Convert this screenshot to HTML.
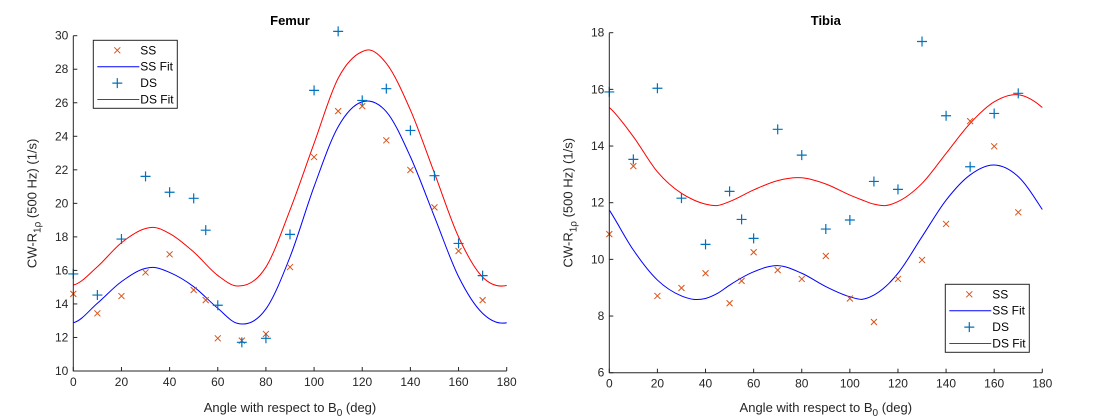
<!DOCTYPE html>
<html><head><meta charset="utf-8">
<style>
html,body{margin:0;padding:0;background:#fff;}
svg{display:block;font-family:"Liberation Sans",Arial,sans-serif;}
</style></head>
<body>
<svg id="chart" width="1110" height="420" viewBox="0 0 1110 420" xmlns="http://www.w3.org/2000/svg"></svg>
<script>
// ---- Femur data ----
const angles = [0,10,20,30,40,50,55,60,70,80,90,100,110,120,130,140,150,160,170];
const femurSS = [14.6,13.44,14.47,15.88,16.96,14.83,14.23,11.95,11.81,12.21,16.2,22.76,25.5,25.8,23.76,21.99,19.76,17.16,14.23];
const femurDS = [15.79,14.53,17.87,21.61,20.66,20.3,18.4,13.92,11.71,11.95,18.15,26.74,30.26,26.14,26.84,24.35,21.65,17.61,15.69];
const femurFitAngles = [0,10,20,30,33,40,50,60,68,80,90,100,110,120,123,130,140,150,160,170,180];
const femurSSFit = [12.88,14.04,15.33,16.12,16.18,15.88,15.03,13.74,12.85,13.7,16.8,21.0,24.57,26.06,26.1,25.47,22.78,19.2,15.63,13.44,12.88];
const femurDSFit = [15.13,16.22,17.65,18.5,18.57,18.2,17.1,15.7,15.07,16.2,19.6,23.58,27.46,29.05,29.15,28.35,25.57,21.8,18.0,15.6,15.1];
// ---- Tibia data ----
const tibiaSS = [10.89,13.29,8.71,8.99,9.51,8.45,9.24,10.25,9.62,9.31,10.12,8.62,7.79,9.31,9.98,11.25,14.88,13.99,11.66];
const tibiaDS = [15.91,13.53,16.04,12.16,10.53,12.4,11.41,10.74,14.59,13.68,11.07,11.39,12.75,12.47,17.69,15.07,13.27,15.15,15.86];
const tibiaFitAngles = [0,10,20,30,35,40,45,50,60,70,80,90,100,105,110,115,120,130,140,150,160,170,180];
const tibiaSSFit = [11.74,10.33,9.27,8.71,8.59,8.62,8.8,9.09,9.56,9.78,9.51,9.04,8.68,8.59,8.74,9.05,9.51,10.8,12.09,12.98,13.33,12.92,11.76];
const tibiaDSFit = [15.36,14.33,13.09,12.33,12.1,11.95,11.9,12.04,12.45,12.78,12.88,12.66,12.27,12.1,11.95,11.9,12.04,12.68,13.74,14.8,15.56,15.81,15.36];
const xTicks = [0,20,40,60,80,100,120,140,160,180];
const femurYTicks = [10,12,14,16,18,20,22,24,26,28,30];
const tibiaYTicks = [6,8,10,12,14,16,18];

const NS="http://www.w3.org/2000/svg";
const svg=document.getElementById('chart');
function mk(tag,attrs,parent){const e=document.createElementNS(NS,tag);for(const k in attrs)e.setAttribute(k,attrs[k]);(parent||svg).appendChild(e);return e;}

// smooth cubic Hermite through (x,y) data with non-uniform 3-point tangents, periodic ends (period 180)
function path(xs,ys,sx,sy){
  const n=xs.length, m=[];
  for(let i=0;i<n;i++){
    let x0,y0,x2,y2;
    if(i==0){x0=xs[n-2]-180;y0=ys[n-2];}else{x0=xs[i-1];y0=ys[i-1];}
    if(i==n-1){x2=xs[1]+180;y2=ys[1];}else{x2=xs[i+1];y2=ys[i+1];}
    const h0=xs[i]-x0,h1=x2-xs[i];
    const d0=(ys[i]-y0)/h0,d1=(y2-ys[i])/h1;
    m.push((d0*h1+d1*h0)/(h0+h1));
  }
  let d='M'+sx(xs[0]).toFixed(2)+','+sy(ys[0]).toFixed(2);
  for(let i=0;i<n-1;i++){
    const h=xs[i+1]-xs[i];
    const c1x=xs[i]+h/3,c1y=ys[i]+m[i]*h/3;
    const c2x=xs[i+1]-h/3,c2y=ys[i+1]-m[i+1]*h/3;
    d+='C'+sx(c1x).toFixed(2)+','+sy(c1y).toFixed(2)+' '+sx(c2x).toFixed(2)+','+sy(c2y).toFixed(2)+' '+sx(xs[i+1]).toFixed(2)+','+sy(ys[i+1]).toFixed(2);
  }
  return d;
}

function panel(cfg){
  const g=mk('g',{});
  
  
  const sx=v=>cfg.x0+(v-0)/180*(cfg.x1-cfg.x0);
  const sy=v=>cfg.yb+(v-cfg.ymin)/(cfg.ymax-cfg.ymin)*(cfg.yt-cfg.yb);
  const ssf=mk('path',{d:path(cfg.fitA,cfg.ssFit,sx,sy),fill:'none',stroke:'#0000ff','stroke-width':1},g);
  
  const dsf=mk('path',{d:path(cfg.fitA,cfg.dsFit,sx,sy),fill:'none',stroke:'#ff0000','stroke-width':1},g);
  
  angles.forEach((a,i)=>{
    const x=sx(a),y=sy(cfg.ss[i]);
    const m=mk('path',{d:`M${x-3},${y-3}L${x+3},${y+3}M${x-3},${y+3}L${x+3},${y-3}`,stroke:'#D95319','stroke-width':1},g);
    
  });
  angles.forEach((a,i)=>{
    const x=sx(a),y=sy(cfg.ds[i]);
    const m=mk('path',{d:`M${x-5},${y}L${x+5},${y}M${x},${y-5}L${x},${y+5}`,stroke:'#0072BD','stroke-width':1.2},g);
    
  });
  const ax=mk('path',{d:`M${cfg.x0},${cfg.yt}L${cfg.x0},${cfg.yb}L${cfg.x1},${cfg.yb}`,fill:'none',stroke:'#262626','stroke-width':1},g);
  
  xTicks.forEach(t=>{
    const x=sx(t);
    mk('line',{x1:x,y1:cfg.yb,x2:x,y2:cfg.yb-4,stroke:'#262626'},g);
    const tx=mk('text',{x:x,y:cfg.yb+15,'text-anchor':'middle','font-size':12,fill:'#262626'},g);
    tx.textContent=t;
    
  });
  cfg.yTicks.forEach(t=>{
    const y=sy(t);
    mk('line',{x1:cfg.x0,y1:y,x2:cfg.x0+4,y2:y,stroke:'#262626'},g);
    const tx=mk('text',{x:cfg.x0-5,y:y+4,'text-anchor':'end','font-size':12,fill:'#262626'},g);
    tx.textContent=t;
    
  });
  const ti=mk('text',{x:(cfg.x0+cfg.x1)/2,y:25,'text-anchor':'middle','font-size':13,'font-weight':'bold',fill:'#000'},g);
  ti.textContent=cfg.title;
  const xl=mk('text',{x:(cfg.x0+cfg.x1)/2,y:412,'text-anchor':'middle','font-size':13,fill:'#262626'},g);
  xl.innerHTML='Angle with respect to B<tspan font-size="10" dy="4">0</tspan><tspan dy="-4"> (deg)</tspan>';
  
  const cy=(cfg.yt+cfg.yb)/2, lx=cfg.x0-37;
  const yl=mk('text',{x:lx,y:cy,transform:`rotate(-90 ${lx} ${cy})`,'text-anchor':'middle','font-size':13,fill:'#262626'},g);
  yl.innerHTML='CW-R<tspan font-size="10" dy="4">1ρ</tspan><tspan dy="-4">  (500 Hz) (1/s)</tspan>';
  
  const L=cfg.leg;
  const lg=mk('g',{},g);
  
  mk('rect',{x:L[0],y:L[1],width:84,height:68,fill:'#fff',stroke:'#262626','stroke-width':1},lg);
  const rows=['SS','SS Fit','DS','DS Fit'];
  rows.forEach((r,i)=>{
    const yy=L[1]+10+i*16.4, mx=L[0]+24;
    const e=mk('g',{},lg);
    
    if(i==0) mk('path',{d:`M${mx-3},${yy-3}L${mx+3},${yy+3}M${mx-3},${yy+3}L${mx+3},${yy-3}`,stroke:'#D95319'},e);
    if(i==2) mk('path',{d:`M${mx-5},${yy}L${mx+5},${yy}M${mx},${yy-5}L${mx},${yy+5}`,stroke:'#0072BD','stroke-width':1.2},e);
    if(i==1) mk('line',{x1:L[0]+4,y1:yy,x2:L[0]+46,y2:yy,stroke:'#0000ff'},e);
    if(i==3) mk('line',{x1:L[0]+4,y1:yy,x2:L[0]+46,y2:yy,stroke:'#ff0000'},e);
    const t=mk('text',{x:L[0]+47,y:yy+4,'font-size':12,fill:'#000'},e);t.textContent=r;
  });
}
panel({name:'femur',title:'Femur',x0:73.3,x1:506.7,yt:35.7,yb:371,ymin:10,ymax:30,yTicks:femurYTicks,
  ss:femurSS,ds:femurDS,fitA:femurFitAngles,ssFit:femurSSFit,dsFit:femurDSFit,leg:[93.3,40.3]});
panel({name:'tibia',title:'Tibia',x0:609.3,x1:1042.3,yt:32.7,yb:372.7,ymin:6,ymax:18,yTicks:tibiaYTicks,
  ss:tibiaSS,ds:tibiaDS,fitA:tibiaFitAngles,ssFit:tibiaSSFit,dsFit:tibiaDSFit,leg:[945.3,284.3]});
</script>
</body></html>
